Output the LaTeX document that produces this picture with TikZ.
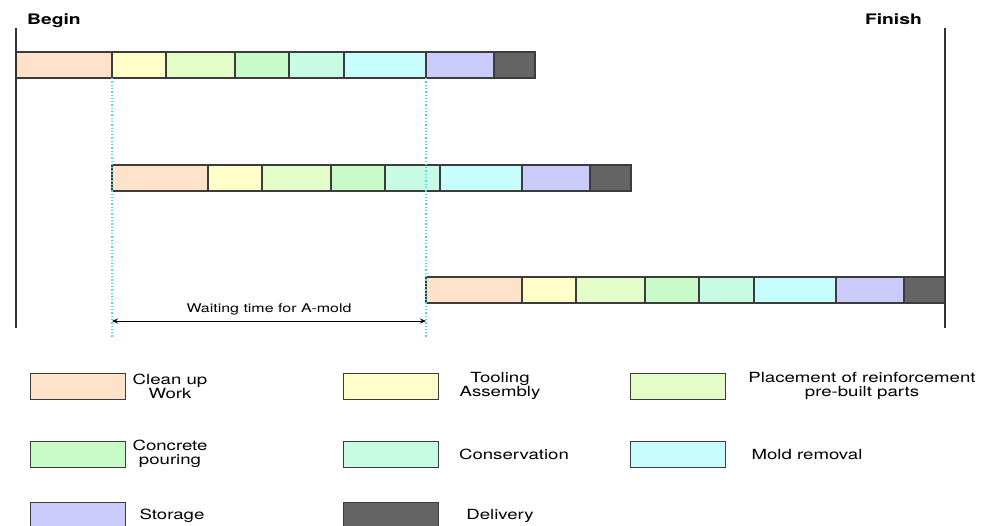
\documentclass[tikz,border=0pt]{standalone}
\usepackage{fontspec}
\setmainfont{TeX Gyre Heros}[FakeStretch=1.33]
\usepackage{xcolor}
\definecolor{cClean}{HTML}{FFE2CA}
\definecolor{cTool}{HTML}{FFFDC8}
\definecolor{cPlace}{HTML}{E4FDC8}
\definecolor{cPour}{HTML}{C8FBC8}
\definecolor{cCons}{HTML}{C8FBE4}
\definecolor{cMold}{HTML}{C8FDFD}
\definecolor{cStore}{HTML}{CBCBFB}
\definecolor{cDeliv}{HTML}{646464}
\definecolor{cEdge}{HTML}{3C3C3C}
\definecolor{cDot}{HTML}{4FD8D8}
\usetikzlibrary{positioning,arrows.meta}
\tikzset{
  seg-box/.style={draw=cEdge,line width=1.1pt,minimum height=26pt,
    inner sep=0pt,outer sep=0pt,anchor=west},
  key-box/.style={draw=cEdge,line width=1pt,minimum width=95pt,
    minimum height=26pt,inner sep=0pt},
  key-text/.style={align=center,font=\fontsize{14}{14}\selectfont},
  time-title/.style={font=\bfseries\fontsize{14.5}{16}\selectfont,inner sep=0pt},
  time-line/.style={draw=black!80,line width=1.2pt},
  wait-line/.style={draw=cDot,line width=1.3pt,dotted},
  arrow/.style={{Stealth[length=6pt,width=5pt]}-{Stealth[length=6pt,width=5pt]},
    line width=0.8pt},
}
\begin{document}
\begin{tikzpicture}[x=1pt,y=-1pt]
  \clip (0,0) rectangle (987,525);
  \useasboundingbox (0,0) rectangle (987,525);
  % three moulds, same sequence of steps
  \foreach \r/\x/\y in {1/16/65, 2/112/178, 3/426/290}{
    \foreach \c/\s/\w [count=\i] in {cClean/0/96, cTool/96/54, cPlace/150/69,
        cPour/219/54, cCons/273/55, cMold/328/82, cStore/410/68, cDeliv/478/41}
      \node[seg-box,fill=\c,minimum width=\w pt] (r\r-\i) at (\x+\s,\y) {};
  }
  \coordinate (line-top) at (0,28);
  \coordinate (line-bot) at (0,328);
  \coordinate (wait-bot) at (0,338);
  \coordinate (arr-y) at (0,321);
  \draw[time-line] (r1-1.west |- line-top) -- (r1-1.west |- line-bot);
  \draw[time-line] (r3-8.east |- line-top) -- (r3-8.east |- line-bot);
  \node[time-title,anchor=base west] (begin) at (27,24) {Begin};
  \node[time-title,anchor=base east] (finish) at (922,24) {Finish};
  \draw[wait-line] (r1-2.south west) -- (r1-2.south west |- wait-bot);
  \draw[wait-line] (r1-7.south west) -- (r1-7.south west |- wait-bot);
  \draw[arrow] (r2-1.west |- arr-y) -- node[above=2pt,
    font=\fontsize{12}{12}\selectfont] (wait) {Waiting time for A-mold}
    (r3-1.west |- arr-y);
  % legend
  \node[key-box,fill=cClean]  (k1) at (77.5,386) {};
  \node[key-box,fill=cTool]   (k2) at (390.5,386) {};
  \node[key-box,fill=cPlace]  (k3) at (677.5,386) {};
  \node[key-box,fill=cPour]   (k4) at (77.5,454) {};
  \node[key-box,fill=cCons]   (k5) at (390.5,454) {};
  \node[key-box,fill=cMold]   (k6) at (677.5,454) {};
  \node[key-box,fill=cStore]  (k7) at (77.5,515) {};
  \node[key-box,fill=cDeliv]  (k8) at (390.5,515) {};
  \node[key-text] (t1) at (170,386) {Clean up\\Work};
  \node[key-text] (t2) at (500,386) {Tooling\\Assembly};
  \node[key-text] (t3) at (862,386) {Placement of reinforcement\\pre-built parts};
  \node[key-text] (t4) at (170,454) {Concrete\\pouring};
  \node[key-text] (t5) at (514,454) {Conservation};
  \node[key-text] (t6) at (807,454) {Mold removal};
  \node[key-text] (t7) at (172,516) {Storage};
  \node[key-text] (t8) at (500,516) {Delivery};
\end{tikzpicture}
\end{document}
